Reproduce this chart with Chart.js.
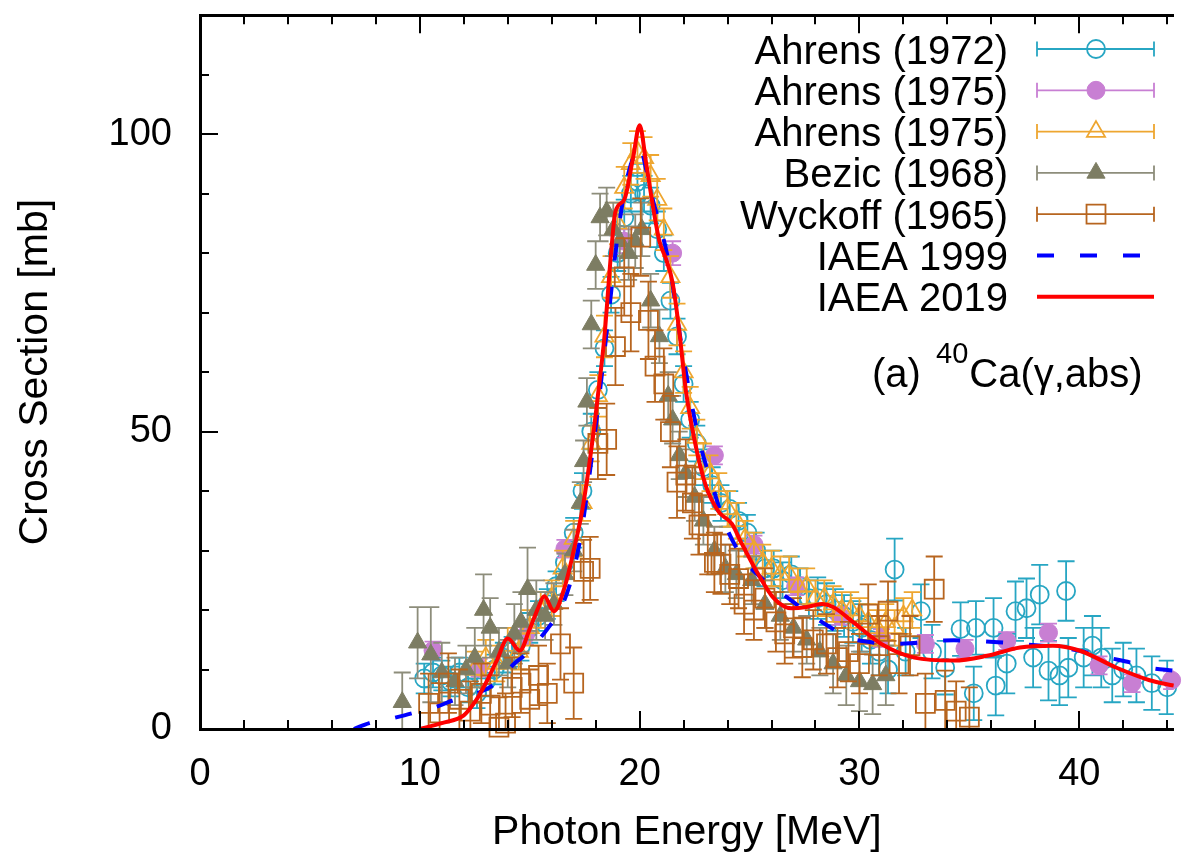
<!DOCTYPE html>
<html>
<head>
<meta charset="utf-8">
<script src="https://cdn.jsdelivr.net/npm/chart.js@4/dist/chart.umd.min.js"></script>
<style>
  html, body { margin: 0; padding: 0; background: #fff; overflow: hidden; }
  canvas { display: block; }
</style>
</head>
<body>
<canvas id="xs" width="1189" height="854"></canvas>
<script>
// ---- 40Ca photoabsorption: measured points (energy MeV, cross section mb, error mb) ----
const ahrens72E = [10.2, 10.6, 11.0, 11.4, 11.8, 12.2, 12.6, 13.0, 13.4, 13.8, 14.2, 14.6, 15.0, 15.4, 15.8, 16.2, 16.6, 17.0, 17.4, 17.8, 18.1, 18.4, 18.7, 19.0, 19.3, 19.6, 19.9, 20.2, 20.5, 20.8, 21.1, 21.4, 21.7, 22.0, 22.3, 22.6, 22.9, 23.3, 23.7, 24.1, 24.5, 24.9, 25.3, 25.7, 26.1, 26.5, 26.9, 27.3, 27.7, 28.1, 28.5, 28.9, 29.3, 29.7, 30.1, 30.5, 30.9, 31.3, 31.6, 32.1, 32.8, 33.3, 33.9, 34.6, 35.2, 35.3, 36.1, 36.2, 36.7, 37.1, 37.6, 37.9, 38.2, 38.6, 39.1, 39.4, 39.5, 40.2, 40.6, 41.0, 41.5, 42.0, 42.6, 43.3, 44.0];
const ahrens72Sigma = [8.5, 9.5, 9, 8, 9.5, 7, 6, 8, 10, 12, 13, 14, 17, 19, 21, 24, 28, 33, 40, 50, 57, 64, 73, 80, 86, 90, 92, 90, 88, 84, 80, 72, 66, 58, 52, 48, 44, 41, 38, 37, 35, 33, 30, 27, 27, 25, 26, 24, 22, 22, 21, 20, 19, 18, 17, 15, 13, 10, 26.8, 13, 19.8, 13, 10.3, 16.8, 6, 17, 17, 7.3, 11, 19.8, 20.3, 12, 22.6, 9.8, 9, 23.2, 10.3, 12, 14, 12, 9, 10, 9, 7.7, 7];
const ahrens72Err = [2.5, 2.5, 2.5, 2.5, 2.5, 2.5, 2.5, 2.5, 2.5, 2.5, 2.5, 2.5, 2.5, 2.5, 2.5, 2.5, 2.5, 2.5, 3, 3, 3, 3, 3, 3, 3, 3, 3, 3, 3, 3, 3, 3, 3, 3, 3, 3, 3, 3, 3, 3, 3, 3, 3, 3, 3, 3, 3, 3, 3, 3.5, 3.5, 3.5, 3.5, 3.5, 4, 4, 4, 4, 5.2, 4, 4.5, 4.5, 4.5, 4.5, 4.5, 4.5, 5, 5, 5, 5, 5, 5, 5, 5, 5, 5, 5, 5, 5, 5, 4.5, 4.5, 4.5, 4.5, 4.5];

const ahrens75aE = [10.6, 12.7, 14.8, 16.6, 19.3, 21.5, 23.4, 25.2, 27.1, 29.1, 31.0, 33.0, 34.8, 36.7, 38.6, 40.9, 42.4, 44.2];
const ahrens75aSigma = [13.2, 10.3, 15.7, 30.3, 82, 80, 46, 31, 24, 19, 15.3, 14.3, 13.5, 14.8, 16.2, 10.7, 7.7, 8.2];
const ahrens75aErr = [1.5, 1.5, 1.5, 1.5, 2, 2, 1.5, 1.5, 1.5, 1.5, 1.5, 1.5, 1.5, 1.5, 1.5, 1.5, 1.5, 1.5];

const ahrens75bE = [12.5, 13.0, 13.5, 14.0, 14.5, 15.0, 15.5, 16.0, 16.5, 17.0, 17.4, 17.8, 18.1, 18.4, 18.7, 19.0, 19.3, 19.6, 19.9, 20.2, 20.5, 20.8, 21.1, 21.4, 21.7, 22.0, 22.3, 22.6, 22.9, 23.2, 23.6, 24.0, 24.4, 24.8, 25.2, 25.6, 26.0, 26.4, 26.8, 27.2, 27.6, 28.0, 28.4, 28.8, 29.2, 29.6, 30.0, 30.4, 30.8, 31.2, 31.6, 32.0, 32.4];
const ahrens75bSigma = [10, 12, 11, 14, 13, 17, 20, 22, 27, 32, 38, 48, 56, 66, 76, 85, 91, 95, 97, 96, 93, 89, 84, 76, 68, 60, 54, 49, 45, 43, 40, 37, 35, 32, 30, 28, 27, 26, 26, 24, 24, 22, 22, 21, 20, 20, 19, 18, 17, 18, 17, 19, 20];
const ahrens75bErr = [3, 3, 3, 3, 3, 3, 3, 3, 3, 3, 3, 3, 3.5, 3.5, 3.5, 3.5, 3.5, 3.5, 3.5, 3.5, 3.5, 3.5, 3.5, 3.5, 3.5, 3.5, 3.5, 3, 3, 3, 3, 3, 3, 3, 3, 3, 3, 3, 3, 3, 3, 3, 3, 3, 3, 3, 3, 3, 3, 3, 3, 3, 3];

const bezicE = [9.2, 9.9, 10.5, 11.0, 11.6, 12.1, 12.5, 12.9, 13.2, 13.6, 14.0, 14.3, 14.6, 14.9, 15.3, 15.7, 16.1, 16.6, 17.0, 17.3, 17.45, 17.6, 17.8, 18.0, 18.2, 18.5, 18.8, 19.1, 19.5, 19.8, 20.1, 20.5, 20.9, 21.3, 21.5, 21.8, 22.1, 22.5, 22.9, 23.4, 23.9, 24.4, 25.1, 25.7, 26.4, 27.0, 27.6, 28.2, 28.8, 29.4, 30.0, 30.6, 31.2];
const bezicSigma = [4.5, 14.5, 12.5, 9.5, 8, 10, 12, 20, 17, 13, 11, 16, 18, 23.5, 20, 19, 21, 26, 30, 38, 45, 55, 68, 78, 86, 87, 84, 82, 80, 82, 84, 72, 66, 56, 52, 46, 43, 39, 35, 30, 27, 26, 25, 21, 19, 17, 15, 13, 11, 9, 8, 7.5, 9];
const bezicErr = [5, 6, 8, 5, 4, 4, 5, 6, 5, 4, 4, 5, 5, 7, 5, 4, 3.5, 3.5, 3.5, 3.5, 3.5, 4, 4, 4, 4, 4, 4.5, 4.5, 4.5, 4.5, 4.5, 4.5, 4.5, 4, 4, 4, 4, 4, 4, 4, 4, 4, 4, 4, 4, 4, 4, 4, 5, 5, 5, 5, 5];

const wyckoffE = [10.4, 10.9, 11.3, 11.8, 12.3, 12.8, 13.2, 13.6, 13.9, 14.2, 14.6, 15.0, 15.4, 15.8, 16.4, 17.0, 17.45, 17.75, 18.1, 18.5, 18.9, 19.3, 19.6, 20.05, 20.4, 20.7, 21.1, 21.4, 21.7, 22.1, 22.4, 22.7, 23.1, 23.4, 23.7, 24.1, 24.5, 24.75, 25.2, 25.7, 26.2, 26.6, 27.0, 27.4, 27.9, 28.5, 29.0, 29.5, 30.0, 30.4, 30.9, 31.3, 31.8, 32.3, 33.0, 33.4, 33.9, 34.4, 35.0];
const wyckoffSigma = [4.3, 2.7, 7.7, 5, 3, 6, 4, 0.3, 1, 7, 7.7, 5, 9, 6, 14.3, 7.7, 26.5, 27, 48, 48.7, 64.3, 76, 70, 82.7, 68.7, 61, 58, 50, 41.5, 42.7, 38, 34.3, 31, 28, 27.7, 26, 25.3, 21, 20, 22, 18, 16, 17, 13.7, 15, 14.3, 12, 13, 11, 19.3, 14, 19.8, 11, 14, 4.3, 23.5, 4.8, 3, 2];
const wyckoffErr = [5, 5, 5, 5, 5, 5, 5, 5, 5, 5, 5, 5, 5, 5, 6, 6, 5.3, 5.3, 6, 6, 6.5, 6.5, 6.5, 6.5, 6.5, 6, 6, 6, 6, 6, 6, 5, 5, 5, 5, 5, 5, 5, 5, 5, 5, 5, 5, 5, 5, 5, 5, 5, 5, 5, 5, 5, 5, 5, 5, 5.5, 5, 5, 5];

// ---- evaluated cross sections ----
const iaea1999E = [7.0, 7.7, 8.5, 9.3, 10.0, 10.8, 11.5, 12.2, 12.8, 13.3, 13.8, 14.3, 14.8, 15.3, 15.8, 16.3, 16.8, 17.3, 17.8, 18.2, 18.6, 19.0, 19.4, 19.7, 20.0, 20.3, 20.6, 21.0, 21.4, 21.8, 22.2, 22.7, 23.3, 23.9, 24.7, 25.5, 26.5, 27.3, 28.0, 28.8, 29.5, 30.3, 31.3, 32.3, 33.4, 34.3, 35.3, 36.3, 37.3, 38.3, 39.2, 40.2, 41.3, 42.3, 43.2, 44.3];
const iaea1999Sigma = [0, 1.0, 1.6, 2.3, 3.0, 3.8, 4.8, 5.6, 6.3, 7.3, 9.0, 11.0, 12.5, 14.5, 16.8, 19.5, 24, 32, 45, 57, 70, 83, 92, 96, 98, 94, 89, 83.7, 77, 67, 58, 48.7, 41, 34.3, 28.7, 25.5, 22.7, 20.5, 18.7, 16.8, 15.3, 14.7, 14.3, 14.4, 14.8, 14.9, 14.8, 14.6, 14.3, 14.0, 13.7, 13.0, 12.0, 11.2, 10.3, 9.8];

const iaea2019E = [10.0, 11.0, 12.0, 12.5, 13.0, 13.5, 14.0, 14.55, 15.0, 15.4, 15.66, 16.1, 16.6, 17.0, 17.4, 17.8, 18.1, 18.4, 18.7, 18.9, 19.3, 19.7, 20.0, 20.3, 20.6, 20.9, 21.2, 21.5, 21.8, 22.1, 22.5, 23.0, 23.6, 24.2, 24.6, 25.4, 26.1, 26.9, 27.6, 28.3, 28.8, 29.8, 31.0, 32.5, 34.3, 35.8, 37.3, 38.8, 40.0, 41.7, 43.2, 44.3];
const iaea2019Sigma = [0, 1.0, 2.3, 4.5, 7.7, 11.5, 15.2, 13.2, 16.8, 20.5, 22.3, 19.8, 24, 30, 37, 47, 56, 66, 80, 87, 89, 96, 101.5, 95, 88, 82, 79, 75, 67, 57, 48.5, 41, 36.5, 34.5, 31.5, 26, 22, 20.3, 20.5, 21, 20.5, 17.7, 14.3, 12, 11.5, 12.3, 13.7, 14, 13.2, 10.3, 8.2, 7.3];

// ---- axis ranges and tick steps ----
const X_MIN = 0, X_MAX = 44.3, X_STEP = 2, X_LABEL_EVERY = 10;
const Y_MIN = 0, Y_MAX = 120, Y_STEP = 10, Y_LABEL_EVERY = 50;

const FONT = "'Liberation Sans', Arial, Helvetica, sans-serif";

function points(E, S) { return E.map((e, i) => ({ x: e, y: S[i] })); }

const datasets = [
  { label: 'Ahrens (1972)', data: points(ahrens72E, ahrens72Sigma), errorBars: ahrens72Err,
    pointStyle: 'circle', pointRadius: 9, pointBackgroundColor: 'rgba(0,0,0,0)',
    pointBorderColor: '#27a6c3', borderColor: '#27a6c3', pointBorderWidth: 1.8, order: 6, clip: false },
  { label: 'Ahrens (1975)', data: points(ahrens75aE, ahrens75aSigma), errorBars: ahrens75aErr,
    pointStyle: 'circle', pointRadius: 9, pointBackgroundColor: '#c87fd3',
    pointBorderColor: '#c87fd3', borderColor: '#c87fd3', pointBorderWidth: 1, order: 5, clip: false },
  { label: 'Ahrens (1975)', data: points(ahrens75bE, ahrens75bSigma), errorBars: ahrens75bErr,
    pointStyle: 'triangle', pointRadius: 10.5, pointBackgroundColor: 'rgba(0,0,0,0)',
    pointBorderColor: '#eea630', borderColor: '#eea630', pointBorderWidth: 1.8, order: 4, clip: false },
  { label: 'Bezic (1968)', data: points(bezicE, bezicSigma), errorBars: bezicErr,
    pointStyle: 'triangle', pointRadius: 10.5, pointBackgroundColor: '#7d7d63',
    pointBorderColor: '#7d7d63', borderColor: '#8d8d7b', pointBorderWidth: 1, order: 3, clip: false },
  { label: 'Wyckoff (1965)', data: points(wyckoffE, wyckoffSigma), errorBars: wyckoffErr,
    pointStyle: 'rect', pointRadius: 13.4, pointBackgroundColor: 'rgba(0,0,0,0)',
    pointBorderColor: '#b7651f', borderColor: '#b7651f', pointBorderWidth: 1.8, order: 2, clip: false },
  { label: 'IAEA 1999', data: points(iaea1999E, iaea1999Sigma), showLine: true, pointRadius: 0,
    borderColor: '#0000ff', borderWidth: 4, borderDash: [17, 26], cubicInterpolationMode: 'monotone', order: 1 },
  { label: 'IAEA 2019', data: points(iaea2019E, iaea2019Sigma), showLine: true, pointRadius: 0,
    borderColor: '#ff0000', borderWidth: 4, cubicInterpolationMode: 'monotone', order: 0 }
];

// vertical error bars with caps, drawn just beneath each dataset's own markers
const errorBarPlugin = {
  id: 'errorBars',
  beforeDatasetDraw(chart, args) {
    const ds = chart.data.datasets[args.index];
    if (!ds.errorBars) return;
    const { ctx, chartArea: a } = chart;
    const xs = chart.scales.x, ys = chart.scales.y;
    const cap = 8.5;
    ctx.save();
    ctx.beginPath();
    ctx.rect(a.left, a.top, a.right - a.left, a.bottom - a.top);
    ctx.clip();
    ctx.strokeStyle = ds.borderColor;
    ctx.lineWidth = 1.8;
    ctx.beginPath();
    ds.data.forEach((p, i) => {
      const e = ds.errorBars[i];
      const px = xs.getPixelForValue(p.x);
      const lo = ys.getPixelForValue(p.y - e);
      const hi = ys.getPixelForValue(p.y + e);
      ctx.moveTo(px, lo); ctx.lineTo(px, hi);
      ctx.moveTo(px - cap, lo); ctx.lineTo(px + cap, lo);
      ctx.moveTo(px - cap, hi); ctx.lineTo(px + cap, hi);
    });
    ctx.stroke();
    ctx.restore();
  }
};

// inward tick marks on bottom, top and left borders (long at labelled values)
const inwardTicks = {
  id: 'inwardTicks',
  afterDatasetsDraw(chart) {
    const { ctx, chartArea: a } = chart;
    const xs = chart.scales.x, ys = chart.scales.y;
    ctx.save();
    ctx.strokeStyle = '#000';
    ctx.lineWidth = 2;
    ctx.beginPath();
    xs.ticks.forEach(t => {
      const px = Math.round(xs.getPixelForValue(t.value));
      if (px <= a.left + 2 || px >= a.right - 1) return;
      const len = (Math.abs(t.value % X_LABEL_EVERY) < 1e-6) ? 18 : 9;
      ctx.moveTo(px, a.bottom); ctx.lineTo(px, a.bottom - len);
      ctx.moveTo(px, a.top); ctx.lineTo(px, a.top + len);
    });
    ys.ticks.forEach(t => {
      const py = Math.round(ys.getPixelForValue(t.value));
      if (py >= a.bottom - 2 || py <= a.top + 2) return;
      const len = (Math.abs(t.value % Y_LABEL_EVERY) < 1e-6) ? 18 : 9;
      ctx.moveTo(a.left, py); ctx.lineTo(a.left + len, py);
    });
    ctx.stroke();
    ctx.restore();
  }
};

function drawMarker(ctx, style, x, y, r, stroke, fill, lw) {
  ctx.beginPath();
  if (style === 'circle') {
    ctx.arc(x, y, r, 0, Math.PI * 2);
  } else if (style === 'triangle') {
    ctx.moveTo(x, y - r);
    ctx.lineTo(x + r * 0.866, y + r * 0.5);
    ctx.lineTo(x - r * 0.866, y + r * 0.5);
    ctx.closePath();
  } else if (style === 'rect') {
    const h = r * Math.SQRT1_2;
    ctx.rect(x - h, y - h, 2 * h, 2 * h);
  }
  if (fill && fill !== 'rgba(0,0,0,0)') { ctx.fillStyle = fill; ctx.fill(); }
  ctx.lineWidth = lw;
  ctx.strokeStyle = stroke;
  ctx.stroke();
}

// key in the upper right plus the reaction annotation
const keyPlugin = {
  id: 'keyBox',
  afterDraw(chart) {
    const ctx = chart.ctx;
    const textRight = 1008, sampleL = 1037, sampleR = 1154, mid = 1096;
    const rowTop = 49, rowStep = 41.3;
    ctx.save();
    ctx.font = `40px ${FONT}`;
    ctx.fillStyle = '#000';
    ctx.textAlign = 'right';
    ctx.textBaseline = 'alphabetic';
    chart.data.datasets.forEach((ds, i) => {
      const cy = rowTop + i * rowStep;
      ctx.fillStyle = '#000';
      ctx.fillText(ds.label, textRight, cy + 14.5);
      ctx.save();
      if (ds.errorBars) {
        ctx.strokeStyle = ds.borderColor;
        ctx.lineWidth = 1.8;
        ctx.beginPath();
        ctx.moveTo(sampleL, cy); ctx.lineTo(sampleR, cy);
        ctx.moveTo(sampleL, cy - 7.5); ctx.lineTo(sampleL, cy + 7.5);
        ctx.moveTo(sampleR, cy - 7.5); ctx.lineTo(sampleR, cy + 7.5);
        ctx.stroke();
        drawMarker(ctx, ds.pointStyle, mid, cy, ds.pointRadius, ds.pointBorderColor,
                   ds.pointBackgroundColor, ds.pointBorderWidth);
      } else {
        ctx.strokeStyle = ds.borderColor;
        ctx.lineWidth = ds.borderWidth;
        if (ds.borderDash) ctx.setLineDash(ds.borderDash);
        ctx.beginPath();
        ctx.moveTo(sampleL, cy); ctx.lineTo(sampleR, cy);
        ctx.stroke();
      }
      ctx.restore();
    });

    // (a) 40Ca(γ,abs)
    ctx.textAlign = 'left';
    ctx.fillStyle = '#000';
    let x = 872;
    const base = 387;
    ctx.font = `40px ${FONT}`;
    ctx.fillText('(a) ', x, base);
    x += ctx.measureText('(a) ').width + 4;
    ctx.font = `29px ${FONT}`;
    ctx.fillText('40', x, base - 24);
    x += ctx.measureText('40').width + 1;
    ctx.font = `40px ${FONT}`;
    ctx.fillText('Ca(\u03b3,abs)', x, base);
    ctx.restore();
  }
};

Chart.defaults.color = '#000';
Chart.defaults.font.family = FONT;

new Chart(document.getElementById('xs'), {
  type: 'scatter',
  data: { datasets },
  options: {
    responsive: false,
    animation: false,
    devicePixelRatio: 1,
    layout: { padding: 0 },
    events: [],
    plugins: { legend: { display: false }, tooltip: { enabled: false } },
    scales: {
      x: {
        type: 'linear', position: 'bottom', min: X_MIN, max: X_MAX,
        ticks: {
          stepSize: X_STEP, autoSkip: false, maxRotation: 0, minRotation: 0, includeBounds: false,
          padding: 23, color: '#000', font: { size: 38, family: FONT },
          callback: v => (Math.abs(v % X_LABEL_EVERY) < 1e-6 ? String(v) : '')
        },
        grid: { display: false, drawTicks: false },
        border: { display: true, width: 3, color: '#000', z: 1 },
        title: { display: true, text: 'Photon Energy [MeV]', color: '#000',
                 font: { size: 41, family: FONT }, padding: { top: 0, bottom: -3 } },
        afterFit: s => { s.height = 125; s.paddingLeft = 0; s.paddingRight = 0; }
      },
      x2: {
        type: 'linear', position: 'top', min: X_MIN, max: X_MAX,
        ticks: { display: false },
        grid: { display: false, drawTicks: false },
        border: { display: true, width: 3, color: '#000', z: 1 },
        afterFit: s => { s.height = 10; s.paddingLeft = 0; s.paddingRight = 0; }
      },
      y: {
        type: 'linear', position: 'left', min: Y_MIN, max: Y_MAX,
        ticks: {
          stepSize: Y_STEP, autoSkip: false, includeBounds: false,
          padding: 28, color: '#000', font: { size: 38, family: FONT },
          callback: v => (Math.abs(v % Y_LABEL_EVERY) < 1e-6 ? String(v) : '')
        },
        grid: { display: false, drawTicks: false },
        border: { display: true, width: 3, color: '#000', z: 1 },
        title: { display: true, text: 'Cross Section [mb]', color: '#000',
                 font: { size: 41, family: FONT }, padding: { top: 11, bottom: 0 } },
        afterFit: s => { s.width = 200; s.paddingTop = 0; s.paddingBottom = 0; }
      }
    }
  },
  plugins: [errorBarPlugin, inwardTicks, keyPlugin]
});
</script>
</body>
</html>
